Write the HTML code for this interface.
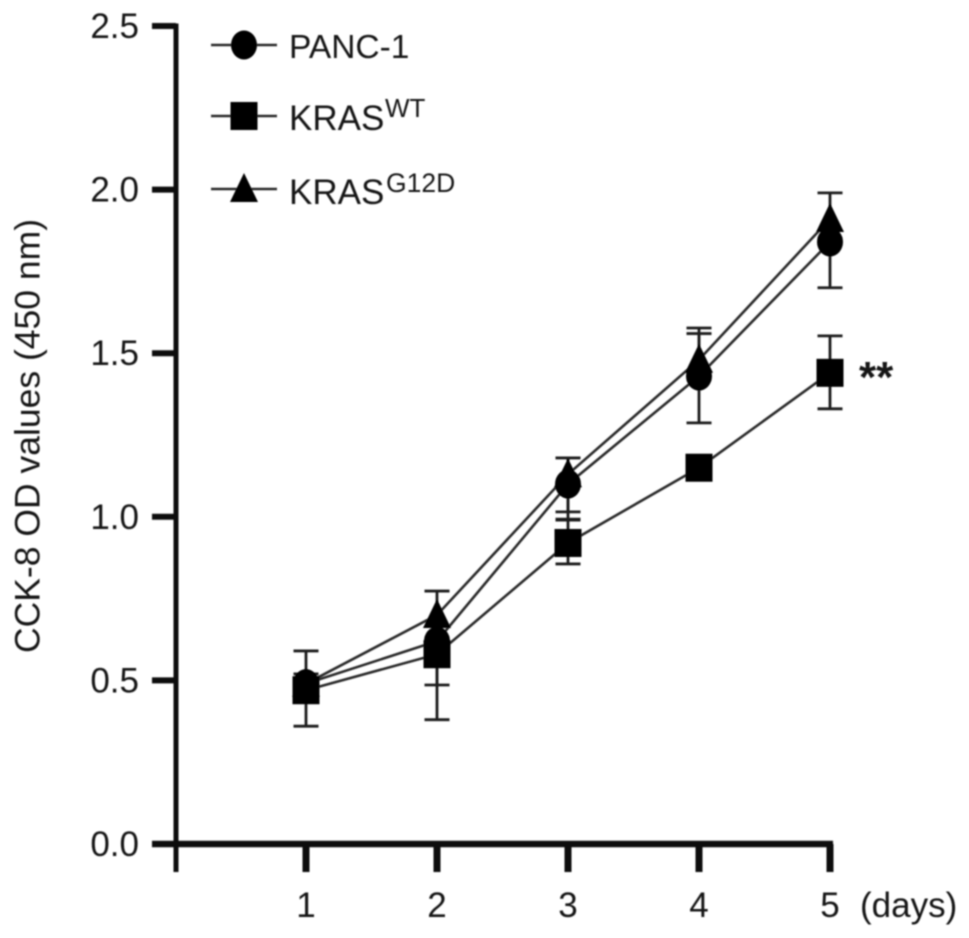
<!DOCTYPE html>
<html lang="en">
<head>
<meta charset="utf-8">
<title>CCK-8 OD values</title>
<style>
html,body{margin:0;padding:0;background:#fff;}
svg{display:block;}
text{font-family:"Liberation Sans",Arial,sans-serif;fill:#141414;}
</style>
</head>
<body>
<svg id="chart" width="969" height="938" viewBox="0 0 969 938" xmlns="http://www.w3.org/2000/svg">
  <defs><filter id="soft" x="-5%" y="-5%" width="110%" height="110%"><feGaussianBlur stdDeviation="0.7"/></filter></defs>
  <rect width="969" height="938" fill="#fff"/>
  <g id="plot" filter="url(#soft)"></g>
  <g id="labels" filter="url(#soft)">
    <text transform="translate(39.5,436) rotate(-90)" text-anchor="middle" font-size="35.5">CCK-8 OD values (450 nm)</text>
    <text x="860" y="917" font-size="35">(days)</text>
    <text x="859" y="392" font-size="44" font-weight="bold">**</text>
    <text x="289" y="58" font-size="33.5">PANC-1</text>
    <text x="289" y="130" font-size="35">KRAS</text>
    <text x="385" y="117" font-size="26">WT</text>
    <text x="289" y="204" font-size="35">KRAS</text>
    <text x="386" y="192" font-size="26.5">G12D</text>
  </g>
</svg>
<script>
const days = [1, 2, 3, 4, 5];
const yTicks = ["0.0", "0.5", "1.0", "1.5", "2.0", "2.5"];
const panc1Values = [0.49, 0.62, 1.10, 1.43, 1.84];
const panc1High = [0.59, 0.63, 1.18, 1.56, 1.85];
const panc1Low = [0.45, 0.486, 1.015, 1.287, 1.70];
const krasWtValues = [0.47, 0.58, 0.92, 1.15, 1.44];
const krasWtHigh = [0.50, 0.60, 0.99, 1.15, 1.553];
const krasWtLow = [0.36, 0.38, 0.856, 1.15, 1.33];
const krasG12dValues = [0.49, 0.70, 1.13, 1.48, 1.91];
const krasG12dHigh = [0.52, 0.773, 1.18, 1.577, 1.99];
const krasG12dLow = [0.45, 0.665, 0.993, 1.42, 1.85];

const NS = 'http://www.w3.org/2000/svg';
const plot = document.getElementById('plot');
const xScale = d => 306 + (d - 1) * 131;
const yScale = v => 844 - v * 327.2;
const INK = '#111';

function shape(tag, attrs, parent) {
  const el = document.createElementNS(NS, tag);
  for (const k in attrs) el.setAttribute(k, attrs[k]);
  (parent || plot).appendChild(el);
  return el;
}
function marker(kind, cx, cy, parent) {
  if (kind === 'circle') return shape('ellipse', {cx: cx, cy: cy, rx: 13, ry: 14.5, fill: '#000'}, parent);
  if (kind === 'square') return shape('rect', {x: cx - 13.5, y: cy - 14, width: 27, height: 28, fill: '#000'}, parent);
  return shape('polygon', {points: (cx - 14) + ',' + (cy + 13) + ' ' + cx + ',' + (cy - 16) + ' ' + (cx + 14) + ',' + (cy + 13), fill: '#000'}, parent);
}

/* axes */
const yAxis = shape('line', {x1: 176, x2: 176, y1: 23.5, y2: 872, stroke: INK, 'stroke-width': 5});


const xAxis = shape('line', {x1: 152, x2: 833, y1: yScale(0), y2: yScale(0), stroke: INK, 'stroke-width': 6.5});



yTicks.forEach(t => {
  const y = yScale(parseFloat(t));
  const tick = shape('line', {x1: 152, x2: 176, y1: y, y2: y, stroke: INK, 'stroke-width': 6});
  
  
  const label = shape('text', {x: 139, y: y + 12, 'text-anchor': 'end', 'font-size': 35}, document.getElementById('labels'));
  label.textContent = t;
  
  
});
days.forEach(d => {
  const x = xScale(d);
  const tick = shape('line', {x1: x, x2: x, y1: 844, y2: 872, stroke: INK, 'stroke-width': 7});
  
  
  const label = shape('text', {x: x, y: 917, 'text-anchor': 'middle', 'font-size': 35}, document.getElementById('labels'));
  label.textContent = String(d);
  
  
});

/* series: lines and whiskers first, markers on top */
const seriesLayer = shape('g', {});


const markerLayer = shape('g', {});



function drawSeries(values, high, low, kind, seriesName) {
  const g = shape('g', {}, seriesLayer);
  
  
  const pts = days.map((d, i) => xScale(d) + ',' + yScale(values[i])).join(' ');
  const line = shape('polyline', {points: pts, fill: 'none', stroke: '#2a2a2a', 'stroke-width': 2.6}, g);
  
  
  days.forEach((d, i) => {
    const x = xScale(d);
    if (high[i] !== low[i]) {
      const whisker = shape('path', {
        d: 'M' + x + ' ' + yScale(high[i]) + 'V' + yScale(low[i]) +
           'M' + (x - 12.5) + ' ' + yScale(high[i]) + 'H' + (x + 12.5) +
           'M' + (x - 12.5) + ' ' + yScale(low[i]) + 'H' + (x + 12.5),
        fill: 'none', stroke: '#1a1a1a', 'stroke-width': 2.8
      }, g);
      
      
    }
    const m = marker(kind, x, yScale(values[i]), markerLayer);
    
    
  });
}
drawSeries(krasWtValues, krasWtHigh, krasWtLow, 'square', 'series-kras-wt');
drawSeries(panc1Values, panc1High, panc1Low, 'circle', 'series-panc1');
drawSeries(krasG12dValues, krasG12dHigh, krasG12dLow, 'triangle', 'series-kras-g12d');

/* legend keys */
const legendKinds = ['circle', 'square', 'triangle'];
const legendRows = [45, 116, 189];
legendKinds.forEach((kind, i) => {
  const g = shape('g', {});
  
  
  shape('line', {x1: 211, x2: 277, y1: legendRows[i], y2: legendRows[i], stroke: '#2a2a2a', 'stroke-width': 2.6}, g);
  marker(kind, 244, legendRows[i], g);
});
</script>
</body>
</html>
